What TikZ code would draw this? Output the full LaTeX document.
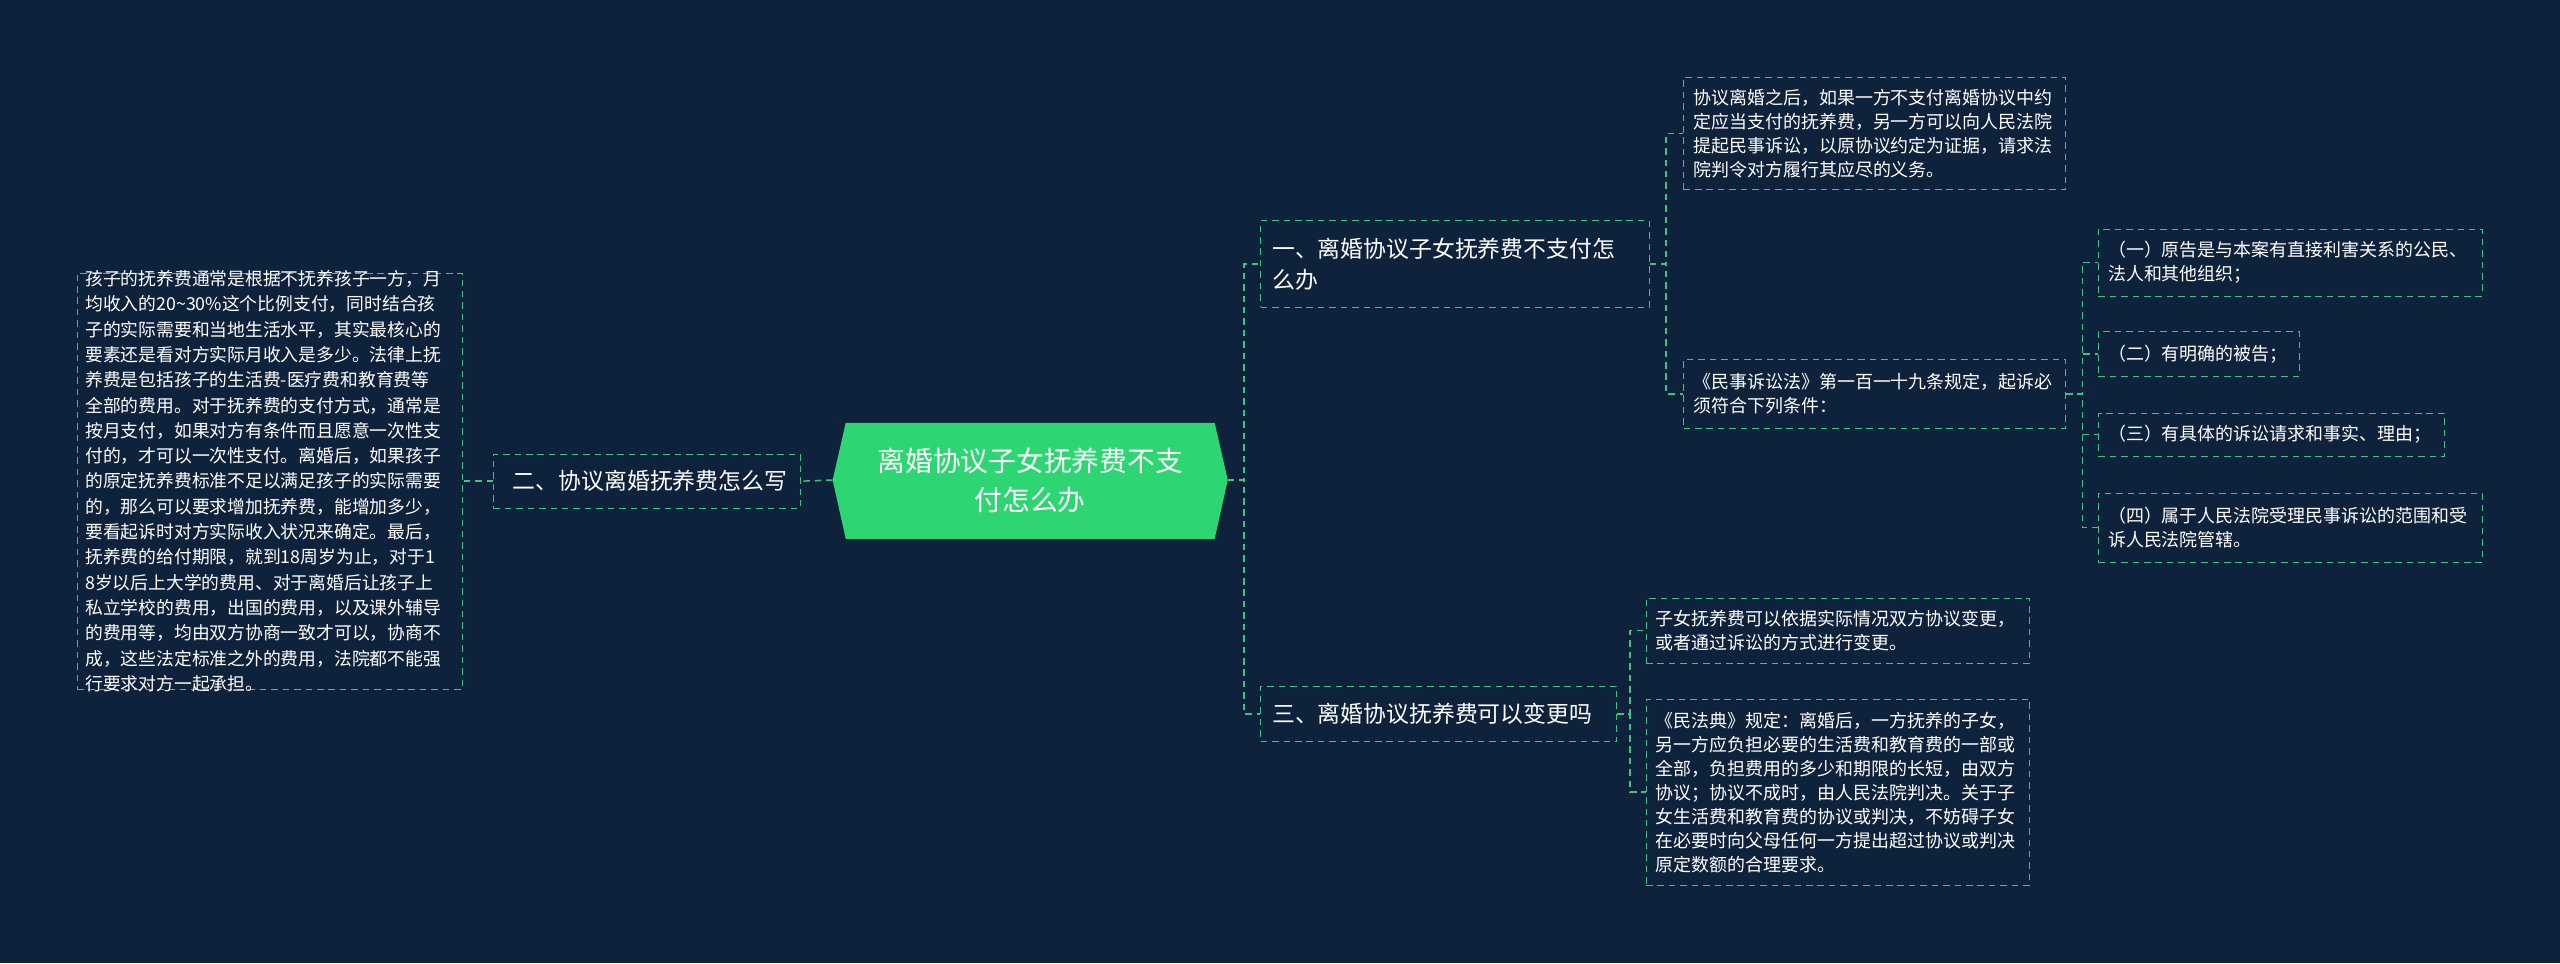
\documentclass[tikz,border=0pt]{standalone}
\usepackage{fontspec}
\setmainfont{Noto Sans CJK SC}
\definecolor{bgnavy}{RGB}{14,34,60}
\definecolor{rootgreen}{RGB}{46,213,115}
\definecolor{edgegreen}{RGB}{62,196,128}
\tikzset{
  leaf/.style={draw=edgegreen, dash pattern=on 4pt off 3pt, text=white, align=left,
    inner sep=0pt, anchor=north west, font=\fontsize{11}{14.7}\selectfont},
  topic/.style={leaf, font=\fontsize{14}{19}\selectfont},
  link/.style={edgegreen, dash pattern=on 4pt off 3pt, line width=0.9pt},
}
\begin{document}
\begin{tikzpicture}[x=1pt,y=-1pt]
  \fill[bgnavy] (0,0) rectangle (1568,590);
  \useasboundingbox (0,0) rectangle (1568,590);
  % root
  \fill[rootgreen] (510,294) -- (518,259) -- (744,259) -- (752,294) -- (744,330) -- (518,330) -- cycle;
  \node[text=white, align=center, font=\fontsize{17}{24}\selectfont] (root) at (631,294)
    {离婚协议子女抚养费不支\\付怎么办};
  \coordinate (rootE) at (752,294);
  \coordinate (rootW) at (510,294);

  % left side
  \node[topic, minimum width=188pt, minimum height=33pt, text width=180pt, anchor=north west] (howto) at (302,278)
    {\hspace*{8pt}二、协议离婚抚养费怎么写};
  \node[leaf, font=\fontsize{10.9}{15.5}\selectfont] (howtoT) at (47,167)
    {\parbox[c][255pt][c]{236pt}{\hspace*{5pt}\begin{minipage}{226pt}
    孩子的抚养费通常是根据不抚养孩子一方，月\\
    均收入的20\textasciitilde30\%这个比例支付，同时结合孩\\
    子的实际需要和当地生活水平，其实最核心的\\
    要素还是看对方实际月收入是多少。法律上抚\\
    养费是包括孩子的生活费-医疗费和教育费等\\
    全部的费用。对于抚养费的支付方式，通常是\\
    按月支付，如果对方有条件而且愿意一次性支\\
    付的，才可以一次性支付。离婚后，如果孩子\\
    的原定抚养费标准不足以满足孩子的实际需要\\
    的，那么可以要求增加抚养费，能增加多少，\\
    要看起诉时对方实际收入状况来确定。最后，\\
    抚养费的给付期限，就到18周岁为止，对于1\\
    8岁以后上大学的费用、对于离婚后让孩子上\\
    私立学校的费用，出国的费用，以及课外辅导\\
    的费用等，均由双方协商一致才可以，协商不\\
    成，这些法定标准之外的费用，法院都不能强\\
    行要求对方一起承担。\end{minipage}}};

  % right side, topics
  \node[topic] (unpaid) at (772,135)
    {\parbox[c][53pt][c]{238pt}{\hspace*{7pt}\begin{minipage}{226pt}一、离婚协议子女抚养费不支付怎\\么办\end{minipage}}};
  \node[topic] (change) at (772,420)
    {\parbox[c][34pt][c]{218pt}{\hspace*{7pt}三、离婚协议抚养费可以变更吗}};

  % leaves of 一
  \node[leaf] (sue) at (1031,47)
    {\parbox[c][69pt][c]{234pt}{\hspace*{6pt}\begin{minipage}{226pt}
    协议离婚之后，如果一方不支付离婚协议中约\\定应当支付的抚养费，另一方可以向人民法院\\
    提起民事诉讼，以原协议约定为证据，请求法\\院判令对方履行其应尽的义务。\end{minipage}}};
  \node[leaf] (law) at (1031,220)
    {\parbox[c][42pt][c]{234pt}{\hspace*{6pt}\begin{minipage}{226pt}
    《民事诉讼法》第一百一十九条规定，起诉必\\须符合下列条件：\end{minipage}}};

  % conditions
  \node[leaf] (condA) at (1285,140)
    {\parbox[c][41pt][c]{235pt}{\hspace*{6pt}\begin{minipage}{226pt}
    （一）原告是与本案有直接利害关系的公民、\\法人和其他组织；\end{minipage}}};
  \node[leaf] (condB) at (1285,203)
    {\parbox[c][27pt][c]{123pt}{\hspace*{6pt}（二）有明确的被告；}};
  \node[leaf] (condC) at (1285,253)
    {\parbox[c][26pt][c]{212pt}{\hspace*{6pt}（三）有具体的诉讼请求和事实、理由；}};
  \node[leaf] (condD) at (1285,302)
    {\parbox[c][42pt][c]{235pt}{\hspace*{6pt}\begin{minipage}{226pt}
    （四）属于人民法院受理民事诉讼的范围和受\\诉人民法院管辖。\end{minipage}}};

  % leaves of 三
  \node[leaf] (agree) at (1008,366)
    {\parbox[c][40pt][c]{235pt}{\hspace*{6pt}\begin{minipage}{226pt}
    子女抚养费可以依据实际情况双方协议变更，\\或者通过诉讼的方式进行变更。\end{minipage}}};
  \node[leaf] (code) at (1008,428)
    {\parbox[c][114pt][c]{235pt}{\hspace*{6pt}\begin{minipage}{226pt}
    《民法典》规定：离婚后，一方抚养的子女，\\另一方应负担必要的生活费和教育费的一部或\\
    全部，负担费用的多少和期限的长短，由双方\\协议；协议不成时，由人民法院判决。关于子\\
    女生活费和教育费的协议或判决，不妨碍子女\\在必要时向父母任何一方提出超过协议或判决\\
    原定数额的合理要求。\end{minipage}}};

  % connectors
  \draw[link] (rootW) -- (howto.east);
  \draw[link] (howto.west) -- (howtoT.east);
  \draw[link] (rootE) -- ++(10,0) |- (unpaid.west);
  \draw[link] (rootE) -- ++(10,0) |- (change.west);
  \draw[link] (unpaid.east) -- ++(10,0) |- (sue.west);
  \draw[link] (unpaid.east) -- ++(10,0) |- (law.west);
  \draw[link] (change.east) -- ++(8,0) |- (agree.west);
  \draw[link] (change.east) -- ++(8,0) |- (code.west);
  \foreach \c in {condA,condB,condC,condD}
    \draw[link] (law.east) -- ++(10,0) |- (\c.west);
\end{tikzpicture}
\end{document}
